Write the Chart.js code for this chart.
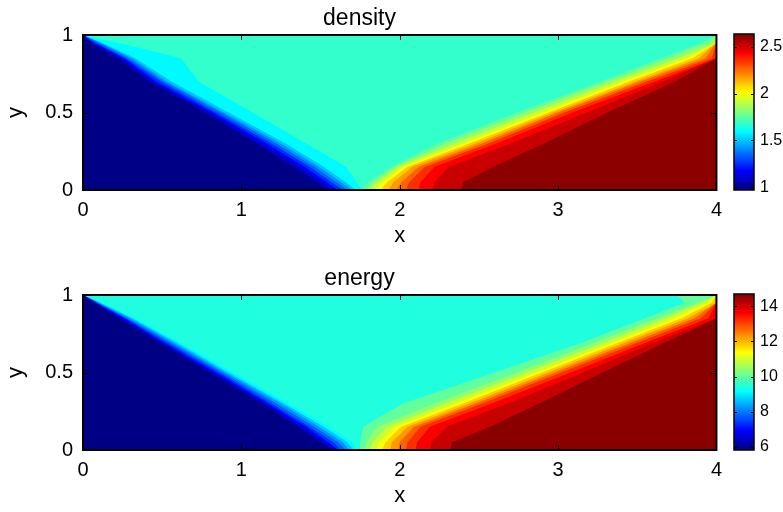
<!DOCTYPE html>
<html>
<head>
<meta charset="utf-8">
<script src="https://cdn.jsdelivr.net/npm/chart.js@4.4.1/dist/chart.umd.min.js"></script>
<style>
  html, body { margin: 0; padding: 0; background: #fff; }
  #page { position: relative; width: 783px; height: 512px; overflow: hidden; }
  canvas { position: absolute; }
</style>
</head>
<body>
<div id="page">
  <canvas id="densityPlot" width="730" height="252" style="left:0;top:0"></canvas>
  <canvas id="densityBar" width="63" height="252" style="left:720px;top:0"></canvas>
  <canvas id="energyPlot" width="730" height="252" style="left:0;top:260px"></canvas>
  <canvas id="energyBar" width="63" height="252" style="left:720px;top:260px"></canvas>
</div>
<script>
// contour fields: x position of each contour line at the y levels below
const xTicks = [0, 1, 2, 3, 4];
const yTicks = [0, 0.5, 1];
const yLevels = [0, 0.05, 0.15, 0.3, 0.5, 0.7, 0.85, 0.95, 1];

const densityRange = [0.97, 2.64];
const densityTicks = [1, 1.5, 2, 2.5];
const densityPlateau = 1.68;
const densityLeftValues = [1.59, 1.50, 1.42, 1.34, 1.25, 1.17, 1.09, 0.98];
const densityLeftX = [
  [1.76, 1.73, 1.66, 1.41, 1.07, 0.73, 0.62, 0.22, 0],
  [1.72, 1.66, 1.52, 1.28, 0.92, 0.56, 0.33, 0.12, 0],
  [1.70, 1.63, 1.49, 1.25, 0.89, 0.53, 0.31, 0.11, 0],
  [1.67, 1.60, 1.46, 1.22, 0.87, 0.51, 0.29, 0.10, 0],
  [1.64, 1.57, 1.43, 1.19, 0.84, 0.49, 0.27, 0.08, 0],
  [1.61, 1.54, 1.40, 1.16, 0.82, 0.46, 0.26, 0.07, 0],
  [1.58, 1.51, 1.37, 1.13, 0.80, 0.44, 0.24, 0.06, 0],
  [1.55, 1.48, 1.33, 1.10, 0.77, 0.42, 0.22, 0.05, 0]
];
const densityRightValues = [1.755, 1.84, 1.93, 2.005, 2.10, 2.18, 2.27, 2.36, 2.44, 2.52, 2.62];
const densityRightX = [
  [1.76, 1.80, 1.95, 2.24, 2.74, 3.27, 3.65, 3.91, 4.0],
  [1.79, 1.83, 1.97, 2.29, 2.79, 3.31, 3.70, 3.95, 4.0],
  [1.81, 1.86, 1.99, 2.35, 2.85, 3.36, 3.76, 4.0, 4.0],
  [1.84, 1.89, 2.02, 2.40, 2.90, 3.41, 3.81, 4.0, 4.0],
  [1.88, 1.92, 2.05, 2.44, 2.94, 3.45, 3.85, 4.0, 4.0],
  [1.93, 1.96, 2.08, 2.48, 2.97, 3.49, 3.89, 4.0, 4.0],
  [1.98, 2.01, 2.12, 2.52, 3.00, 3.52, 3.93, 4.0, 4.0],
  [2.04, 2.06, 2.16, 2.56, 3.04, 3.56, 3.97, 4.0, 4.0],
  [2.12, 2.13, 2.22, 2.61, 3.09, 3.61, 4.0, 4.0, 4.0],
  [2.21, 2.22, 2.31, 2.70, 3.18, 3.66, 4.0, 4.0, 4.0],
  [2.39, 2.40, 2.59, 2.91, 3.31, 3.74, 4.0, 4.0, 4.0]
];

const energyRange = [5.83, 14.7];
const energyTicks = [6, 8, 10, 12, 14];
const energyPlateau = 9.43;
const energyLeftValues = [9.11, 8.67, 8.22, 7.78, 7.34, 6.89, 6.45, 5.87];
const energyLeftX = [
  [1.73, 1.70, 1.55, 1.30, 0.95, 0.60, 0.33, 0.12, 0],
  [1.71, 1.67, 1.52, 1.27, 0.92, 0.58, 0.31, 0.11, 0],
  [1.68, 1.64, 1.49, 1.25, 0.90, 0.56, 0.30, 0.10, 0],
  [1.66, 1.61, 1.46, 1.22, 0.88, 0.54, 0.28, 0.09, 0],
  [1.63, 1.58, 1.43, 1.19, 0.86, 0.52, 0.27, 0.09, 0],
  [1.61, 1.55, 1.41, 1.17, 0.84, 0.50, 0.26, 0.08, 0],
  [1.59, 1.53, 1.38, 1.15, 0.82, 0.49, 0.24, 0.08, 0],
  [1.57, 1.50, 1.36, 1.13, 0.80, 0.47, 0.23, 0.07, 0]
];
const energyRightValues = [10.0, 10.44, 10.93, 11.33, 11.82, 12.26, 12.75, 13.19, 13.64, 14.08, 14.61];
const energyRightX = [
  [1.75, 1.75, 1.77, 2.02, 2.60, 3.17, 3.55, 3.80, 3.75],
  [1.78, 1.79, 1.86, 2.22, 2.74, 3.25, 3.63, 3.88, 4.0],
  [1.81, 1.83, 1.92, 2.29, 2.80, 3.31, 3.68, 3.91, 4.0],
  [1.85, 1.87, 1.97, 2.35, 2.86, 3.36, 3.73, 3.94, 4.0],
  [1.89, 1.91, 2.01, 2.40, 2.90, 3.40, 3.78, 3.97, 4.0],
  [1.94, 1.95, 2.05, 2.44, 2.94, 3.44, 3.82, 4.0, 4.0],
  [1.99, 2.00, 2.09, 2.48, 2.98, 3.48, 3.86, 4.0, 4.0],
  [2.04, 2.05, 2.13, 2.52, 3.02, 3.52, 3.90, 4.0, 4.0],
  [2.10, 2.11, 2.19, 2.58, 3.08, 3.57, 3.95, 4.0, 4.0],
  [2.19, 2.20, 2.30, 2.68, 3.16, 3.62, 4.0, 4.0, 4.0],
  [2.32, 2.33, 2.57, 2.88, 3.28, 3.69, 4.0, 4.0, 4.0]
];

const FONT = "'Liberation Sans', Arial, Helvetica, sans-serif";
const X_MIN = 0, X_MAX = 4, Y_MIN = 0, Y_MAX = 1;

// matlab jet colormap
function jet(t) {
  t = Math.min(1, Math.max(0, t));
  const f = c => Math.round(255 * Math.min(1, Math.max(0, c)));
  return 'rgb(' + f(1.5 - Math.abs(4 * t - 3)) + ',' + f(1.5 - Math.abs(4 * t - 2)) + ',' + f(1.5 - Math.abs(4 * t - 1)) + ')';
}

function contourDatasets(range, plateau, leftVals, leftX, rightVals, rightX) {
  const norm = v => (v - range[0]) / (range[1] - range[0]);
  const sets = [];
  const add = (pts, v) => sets.push({
    data: pts, backgroundColor: jet(norm(v)), borderWidth: 0, pointRadius: 0,
    showLine: true, fill: 'shape', tension: 0
  });
  add([{x: X_MIN, y: Y_MIN}, {x: X_MIN, y: Y_MAX}, {x: X_MAX, y: Y_MAX}, {x: X_MAX, y: Y_MIN}], plateau);
  leftVals.forEach((v, k) => {
    const pts = yLevels.map((y, i) => ({x: leftX[k][i], y: y}));
    pts.push({x: X_MIN, y: Y_MAX}, {x: X_MIN, y: Y_MIN});
    add(pts, v);
  });
  rightVals.forEach((v, k) => {
    const pts = yLevels.map((y, i) => ({x: rightX[k][i], y: y}));
    pts.push({x: X_MAX, y: Y_MAX}, {x: X_MAX, y: Y_MIN});
    add(pts, v);
  });
  // first pushed is painted first (bottom)
  sets.forEach((s, i) => { s.order = -i; });
  return sets;
}

// inward tick marks and box, like matlab axes
const axesFrame = {
  id: 'axesFrame',
  afterDraw(chart, args, opts) {
    const {ctx, chartArea: a, scales} = chart;
    const len = opts.len || 5;
    ctx.save();
    ctx.strokeStyle = '#000';
    ctx.lineWidth = 1;
    ctx.beginPath();
    (opts.xValues || []).forEach(v => {
      const p = Math.round(scales.x.getPixelForValue(v)) + 0.5;
      ctx.moveTo(p, a.bottom); ctx.lineTo(p, a.bottom - len);
      ctx.moveTo(p, a.top); ctx.lineTo(p, a.top + len);
    });
    (opts.yValues || []).forEach(v => {
      const p = Math.round(scales.y.getPixelForValue(v)) + 0.5;
      ctx.moveTo(a.left, p); ctx.lineTo(a.left + len, p);
      ctx.moveTo(a.right, p); ctx.lineTo(a.right - len, p);
    });
    ctx.stroke();
    ctx.lineWidth = opts.frame || 2;
    ctx.strokeRect(a.left, a.top, a.right - a.left, a.bottom - a.top);
    ctx.restore();
  }
};

const plainLabel = v => String(v);

function makePlot(id, title, datasets) {
  return new Chart(document.getElementById(id), {
    type: 'scatter',
    data: { datasets: datasets },
    options: {
      responsive: false, animation: false, events: [],
      layout: { padding: { left: 0, right: 11, top: 0, bottom: 0 } },
      plugins: {
        legend: { display: false },
        tooltip: { enabled: false },
        title: {
          display: true, text: title, color: '#000',
          font: { family: FONT, size: 23, weight: 'normal' },
          padding: { top: 5, bottom: 2.4 }
        },
        axesFrame: { xValues: xTicks, yValues: yTicks, len: 5 }
      },
      scales: {
        x: {
          type: 'linear', min: X_MIN, max: X_MAX,
          grid: { display: false, drawTicks: false }, border: { display: false },
          afterBuildTicks: s => { s.ticks = xTicks.map(v => ({ value: v })); },
          ticks: { color: '#000', font: { family: FONT, size: 20 }, padding: 8, maxRotation: 0, callback: plainLabel },
          title: { display: true, text: 'x', color: '#000', font: { family: FONT, size: 22 }, padding: { top: 0, bottom: 3 } },
          afterFit: s => { s.height = 62; }
        },
        y: {
          type: 'linear', min: Y_MIN, max: Y_MAX,
          grid: { display: false, drawTicks: false }, border: { display: false },
          afterBuildTicks: s => { s.ticks = yTicks.map(v => ({ value: v })); },
          ticks: { color: '#000', font: { family: FONT, size: 20 }, padding: 10, callback: plainLabel },
          title: { display: true, text: 'y', color: '#000', font: { family: FONT, size: 22 }, padding: { top: 2.5, bottom: 0 } },
          afterFit: s => { s.width = 83; }
        }
      }
    },
    plugins: [axesFrame]
  });
}

function makeColorbar(id, range, ticks) {
  return new Chart(document.getElementById(id), {
    type: 'bar',
    data: {
      labels: [''],
      datasets: [{
        data: [[range[0], range[1]]],
        barPercentage: 1, categoryPercentage: 1, borderWidth: 0,
        backgroundColor: ctx => {
          const a = ctx.chart.chartArea;
          if (!a) return 'rgba(0,0,0,0)';
          const g = ctx.chart.ctx.createLinearGradient(0, a.bottom, 0, a.top);
          [0, 0.125, 0.375, 0.625, 0.875, 1].forEach(t => g.addColorStop(t, jet(t)));
          return g;
        }
      }]
    },
    options: {
      responsive: false, animation: false, events: [],
      layout: { padding: { left: 14, right: 0, top: 34, bottom: 62 } },
      plugins: {
        legend: { display: false }, tooltip: { enabled: false },
        axesFrame: { yValues: ticks, len: 3, frame: 1.5 }
      },
      scales: {
        x: { display: false },
        y: {
          position: 'right', min: range[0], max: range[1],
          grid: { display: false, drawTicks: false }, border: { display: false },
          afterBuildTicks: s => { s.ticks = ticks.map(v => ({ value: v })); },
          ticks: { color: '#000', font: { family: FONT, size: 16 }, padding: 6, callback: plainLabel },
          afterFit: s => { s.width = 29; }
        }
      }
    },
    plugins: [axesFrame]
  });
}

makePlot('densityPlot', 'density',
  contourDatasets(densityRange, densityPlateau, densityLeftValues, densityLeftX, densityRightValues, densityRightX));
makeColorbar('densityBar', densityRange, densityTicks);
makePlot('energyPlot', 'energy',
  contourDatasets(energyRange, energyPlateau, energyLeftValues, energyLeftX, energyRightValues, energyRightX));
makeColorbar('energyBar', energyRange, energyTicks);
</script>
</body>
</html>
